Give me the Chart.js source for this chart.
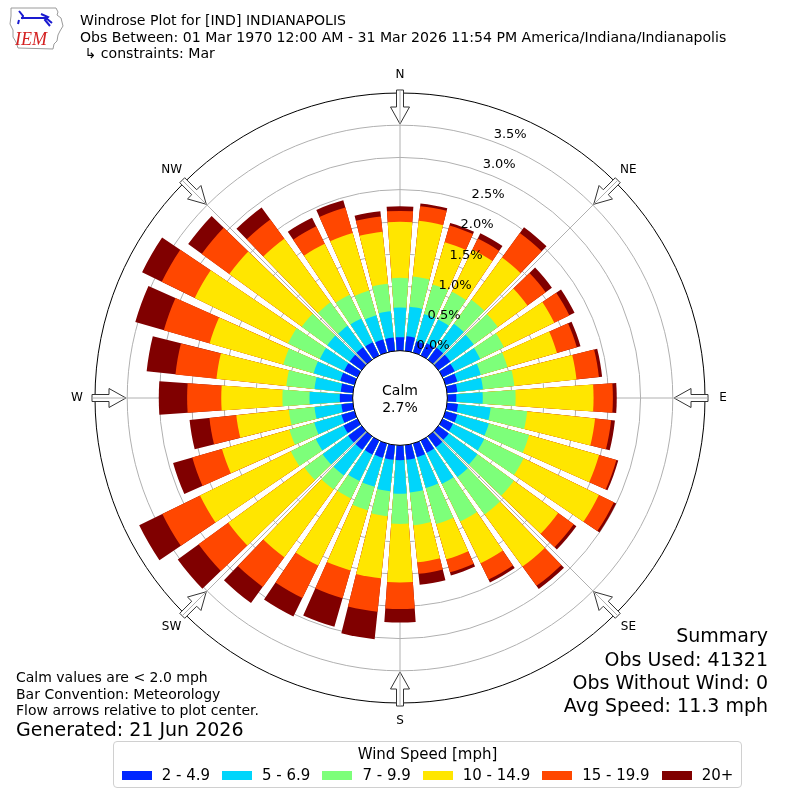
<!DOCTYPE html>
<html>
<head>
<meta charset="utf-8">
<script src="https://cdn.jsdelivr.net/npm/chart.js@4.4.1/dist/chart.umd.min.js"></script>
<style>
  body { margin: 0; background: #fff; }
  #wrap { position: relative; width: 800px; height: 800px; font-family: "DejaVu Sans", sans-serif; color: #000; overflow: hidden; }
  #rose { position: absolute; left: 0; top: 0; }
  .t { position: absolute; white-space: pre; line-height: 1; transform: translateY(-50%); }
  .r { text-align: right; transform: translate(-100%, -50%); }
  #legend { position: absolute; left: 113px; top: 741px; width: 627px; height: 45px; border: 1px solid #d0d0d0; border-radius: 4px; background: #fff; }
  #legend .ttl { position: absolute; left: 0; width: 100%; top: 5px; text-align: center; font-size: 15px; line-height: 15px; }
  #legend-row { position: absolute; left: 0; width: 100%; top: 26px; display: flex; flex-wrap: nowrap; justify-content: center; font-size: 15px; line-height: 15px; }
  .li { display: inline-flex; align-items: center; margin: 0 6px; white-space: nowrap; flex-shrink: 0; }
  .li i { display: inline-block; width: 30px; height: 9px; margin-right: 10px; }
</style>
</head>
<body>
<div id="wrap">
  <canvas id="rose" width="800" height="800"></canvas>

  <svg style="position:absolute;left:6px;top:4px" width="60" height="48" viewBox="0 0 60 48">
    <path d="M5 4 L50 4 L52 8 L51 11 L55 14 L57 22 L54 27 L52 31 L51 37 L48 40 L47 45 L12 44 L10 38 L7 33 L7 26 L4 20 L5 12 Z" fill="none" stroke="#9a9a9a" stroke-width="1"/>
    <path d="M13 7 L17 12 L16 15 M15 14 L40 14 L46 19 M35 10 L42 13 L39 16 L44 22 M13 16 L12 20" fill="none" stroke="#1a1ad0" stroke-width="2"/>
    <text x="9" y="41" font-family="Liberation Serif" font-style="italic" font-size="18" fill="#d42020">IEM</text>
  </svg>

  <div class="t" style="left:80px;top:20px;font-size:14.1px">Windrose Plot for [IND] INDIANAPOLIS</div>
  <div class="t" style="left:80px;top:37px;font-size:14.1px">Obs Between: 01 Mar 1970 12:00 AM - 31 Mar 2026 11:54 PM America/Indiana/Indianapolis</div>
  <div class="t" style="left:80px;top:53px;font-size:14.1px"> ↳ constraints: Mar</div>

  <div class="t" style="left:16px;top:677px;font-size:14px">Calm values are &lt; 2.0 mph</div>
  <div class="t" style="left:16px;top:694px;font-size:14px">Bar Convention: Meteorology</div>
  <div class="t" style="left:16px;top:710px;font-size:14px">Flow arrows relative to plot center.</div>
  <div class="t" style="left:16px;top:729px;font-size:19px">Generated: 21 Jun 2026</div>

  <div class="t r" style="left:768px;top:635px;font-size:19px">Summary</div>
  <div class="t r" style="left:768px;top:659px;font-size:19px">Obs Used: 41321</div>
  <div class="t r" style="left:768px;top:682px;font-size:19px">Obs Without Wind: 0</div>
  <div class="t r" style="left:768px;top:705px;font-size:19px">Avg Speed: 11.3 mph</div>

  <div id="legend">
    <div class="ttl">Wind Speed [mph]</div>
    <div id="legend-row"></div>
  </div>
</div>

<script>
// direction bins (degrees, meteorological: where the wind blows from)
const directions = [0, 10, 20, 30, 40, 50, 60, 70, 80, 90, 100, 110, 120, 130, 140, 150, 160, 170,
                    180, 190, 200, 210, 220, 230, 240, 250, 260, 270, 280, 290, 300, 310, 320, 330, 340, 350];

const speedBins = ['2 - 4.9', '5 - 6.9', '7 - 9.9', '10 - 14.9', '15 - 19.9', '20+'];

// percent of observations in each direction, per speed bin
const speed2to5 = [0.21,0.23,0.18,0.21,0.23,0.23,0.21,0.19,0.16,0.14,0.17,0.19,0.18,0.20,0.21,0.21,0.22,0.23,
                   0.23,0.23,0.23,0.24,0.26,0.26,0.24,0.21,0.18,0.20,0.19,0.23,0.23,0.23,0.24,0.23,0.21,0.21];
const speed5to7 = [0.46,0.46,0.44,0.41,0.46,0.45,0.44,0.38,0.40,0.41,0.51,0.51,0.54,0.55,0.57,0.54,0.50,0.51,
                   0.52,0.49,0.47,0.46,0.49,0.49,0.48,0.44,0.42,0.47,0.41,0.43,0.42,0.43,0.41,0.41,0.39,0.41];
const speed7to10 = [0.46,0.47,0.48,0.48,0.46,0.46,0.41,0.43,0.49,0.51,0.57,0.65,0.68,0.70,0.72,0.65,0.58,0.51,
                    0.47,0.39,0.38,0.30,0.27,0.35,0.43,0.40,0.40,0.42,0.44,0.49,0.55,0.49,0.45,0.41,0.40,0.43];
const speed10to15 = [0.87,0.87,0.68,0.73,0.81,0.57,0.87,0.80,0.97,1.21,1.06,1.13,1.30,0.85,1.00,0.72,0.57,0.58,
                     0.91,0.97,0.97,1.16,1.30,1.46,1.57,1.09,0.82,0.95,1.09,1.19,1.61,1.39,1.22,0.88,0.93,0.81];
const speed15to20 = [0.17,0.23,0.27,0.19,0.47,0.35,0.26,0.32,0.35,0.30,0.25,0.28,0.26,0.30,0.37,0.28,0.21,0.18,
                     0.41,0.52,0.45,0.56,0.57,0.57,0.65,0.48,0.42,0.53,0.64,0.74,0.57,0.53,0.37,0.30,0.41,0.24];
const speed20plus = [0.07,0.04,0.04,0.09,0.11,0.12,0.09,0.06,0.05,0.06,0.06,0.03,0.04,0.05,0.06,0.05,0.05,0.17,
                     0.21,0.43,0.46,0.32,0.31,0.40,0.40,0.31,0.31,0.44,0.45,0.46,0.34,0.26,0.23,0.15,0.12,0.08];

const pctTicks = [0.0, 0.5, 1.0, 1.5, 2.0, 2.5, 3.0, 3.5];
const compass = ['N', 'NE', 'E', 'SE', 'S', 'SW', 'W', 'NW'];
const calmPct = 2.7;

const binColors = ['#0026ff', '#00d5fb', '#7dff7a', '#ffe600', '#ff4700', '#800000'];
const bins = [speed2to5, speed5to7, speed7to10, speed10to15, speed15to20, speed20plus];

// stacked rose: each dataset is the running total, drawn biggest first so smaller ones sit on top
// every direction gets a bar slot followed by an empty gap slot
const barDeg = 8, gapDeg = 2;
let running = directions.map(() => 0);
const datasets = bins.map((vals, k) => {
  running = running.map((v, i) => v + vals[i]);
  const data = [];
  running.forEach(v => { data.push(v); data.push(null); });
  return {
    label: speedBins[k],
    data: data,
    backgroundColor: ctx => ctx.dataIndex % 2 ? 'rgba(0,0,0,0)' : binColors[k],
    borderWidth: 0,
    angle: ctx => ctx.dataIndex % 2 ? gapDeg : barDeg
  };
});
const labels = [];
directions.forEach(d => { labels.push(d + '°'); labels.push(''); });

const roseDecor = {
  id: 'roseDecor',
  beforeDatasetsDraw(chart) {
    const s = chart.scales.r, ctx = chart.ctx;
    const rOut = s.getDistanceFromCenterForValue(s.max);
    ctx.save();
    ctx.strokeStyle = '#b0b0b0';
    ctx.lineWidth = 1;
    compass.forEach((c, k) => {
      const a = k * Math.PI / 4;
      ctx.beginPath();
      ctx.moveTo(s.xCenter, s.yCenter);
      ctx.lineTo(s.xCenter + rOut * Math.sin(a), s.yCenter - rOut * Math.cos(a));
      ctx.stroke();
    });
    ctx.restore();
  },
  afterDatasetsDraw(chart) {
    const s = chart.scales.r, ctx = chart.ctx;
    const cx = s.xCenter, cy = s.yCenter;
    const r0 = s.getDistanceFromCenterForValue(0);
    const rOut = s.getDistanceFromCenterForValue(s.max);
    ctx.save();

    // calm circle
    ctx.beginPath();
    ctx.arc(cx, cy, r0, 0, 2 * Math.PI);
    ctx.fillStyle = '#fff';
    ctx.fill();
    ctx.strokeStyle = '#000';
    ctx.lineWidth = 1;
    ctx.stroke();
    ctx.fillStyle = '#000';
    ctx.font = '14px "DejaVu Sans"';
    ctx.textAlign = 'center';
    ctx.textBaseline = 'middle';
    ctx.fillText('Calm', cx, cy - 7);
    ctx.fillText(calmPct.toFixed(1) + '%', cx, cy + 10);

    // ring labels
    ctx.font = '13px "DejaVu Sans"';
    ctx.textAlign = 'left';
    ctx.textBaseline = 'bottom';
    const la = 20 * Math.PI / 180;
    pctTicks.forEach(v => {
      const r = s.getDistanceFromCenterForValue(v) + 1;
      ctx.fillText(v.toFixed(1) + '%', cx + r * Math.sin(la), cy - r * Math.cos(la));
    });

    // flow arrows + compass names
    compass.forEach((name, k) => {
      const a = k * Math.PI / 4;
      const P = (r, w) => [cx + r * Math.sin(a) + w * Math.cos(a), cy - r * Math.cos(a) + w * Math.sin(a)];
      const pts = [P(rOut + 3, -3.5), P(rOut - 14, -3.5), P(rOut - 14, -9.5), P(rOut - 31, 0),
                   P(rOut - 14, 9.5), P(rOut - 14, 3.5), P(rOut + 3, 3.5)];
      ctx.beginPath();
      pts.forEach((p, i) => i ? ctx.lineTo(p[0], p[1]) : ctx.moveTo(p[0], p[1]));
      ctx.closePath();
      ctx.fillStyle = '#fff';
      ctx.fill();
      ctx.strokeStyle = '#333';
      ctx.lineWidth = 1;
      ctx.stroke();
      ctx.beginPath();
      ctx.moveTo(...P(rOut - 31, 0));
      ctx.lineTo(...P(rOut + 3, 0));
      ctx.strokeStyle = '#b0b0b0';
      ctx.stroke();

      ctx.fillStyle = '#000';
      ctx.font = '12px "DejaVu Sans"';
      ctx.textAlign = 'center';
      ctx.textBaseline = 'middle';
      const lp = P(rOut + 18, 0);
      ctx.fillText(name, lp[0], lp[1]);
    });
    ctx.restore();
  }
};

new Chart(document.getElementById('rose'), {
  type: 'polarArea',
  data: { labels: labels, datasets: datasets },
  options: {
    responsive: false,
    animation: false,
    events: [],
    layout: { padding: { left: 95, right: 95, top: 93, bottom: 97 } },
    plugins: { legend: { display: false }, tooltip: { enabled: false } },
    scales: {
      r: {
        min: -0.735,
        max: 4.0,
        startAngle: -barDeg / 2,
        ticks: { display: false, stepSize: 0.5 },
        angleLines: { display: false },
        pointLabels: { display: false },
        grid: {
          circular: true,
          lineWidth: 1,
          color: ctx => {
            const v = ctx.tick.value;
            if (Math.abs(v - 4) < 1e-6) return '#000';
            if (v > 0.01 && v < 3.6) return '#b0b0b0';
            return 'rgba(0,0,0,0)';
          }
        }
      }
    }
  },
  plugins: [roseDecor]
});

// legend from the speed bins
const row = document.getElementById('legend-row');
speedBins.forEach((lab, k) => {
  const item = document.createElement('span');
  item.className = 'li';
  item.innerHTML = '<i style="background:' + binColors[k] + '"></i>' + lab;
  row.appendChild(item);
});
</script>
</body>
</html>
